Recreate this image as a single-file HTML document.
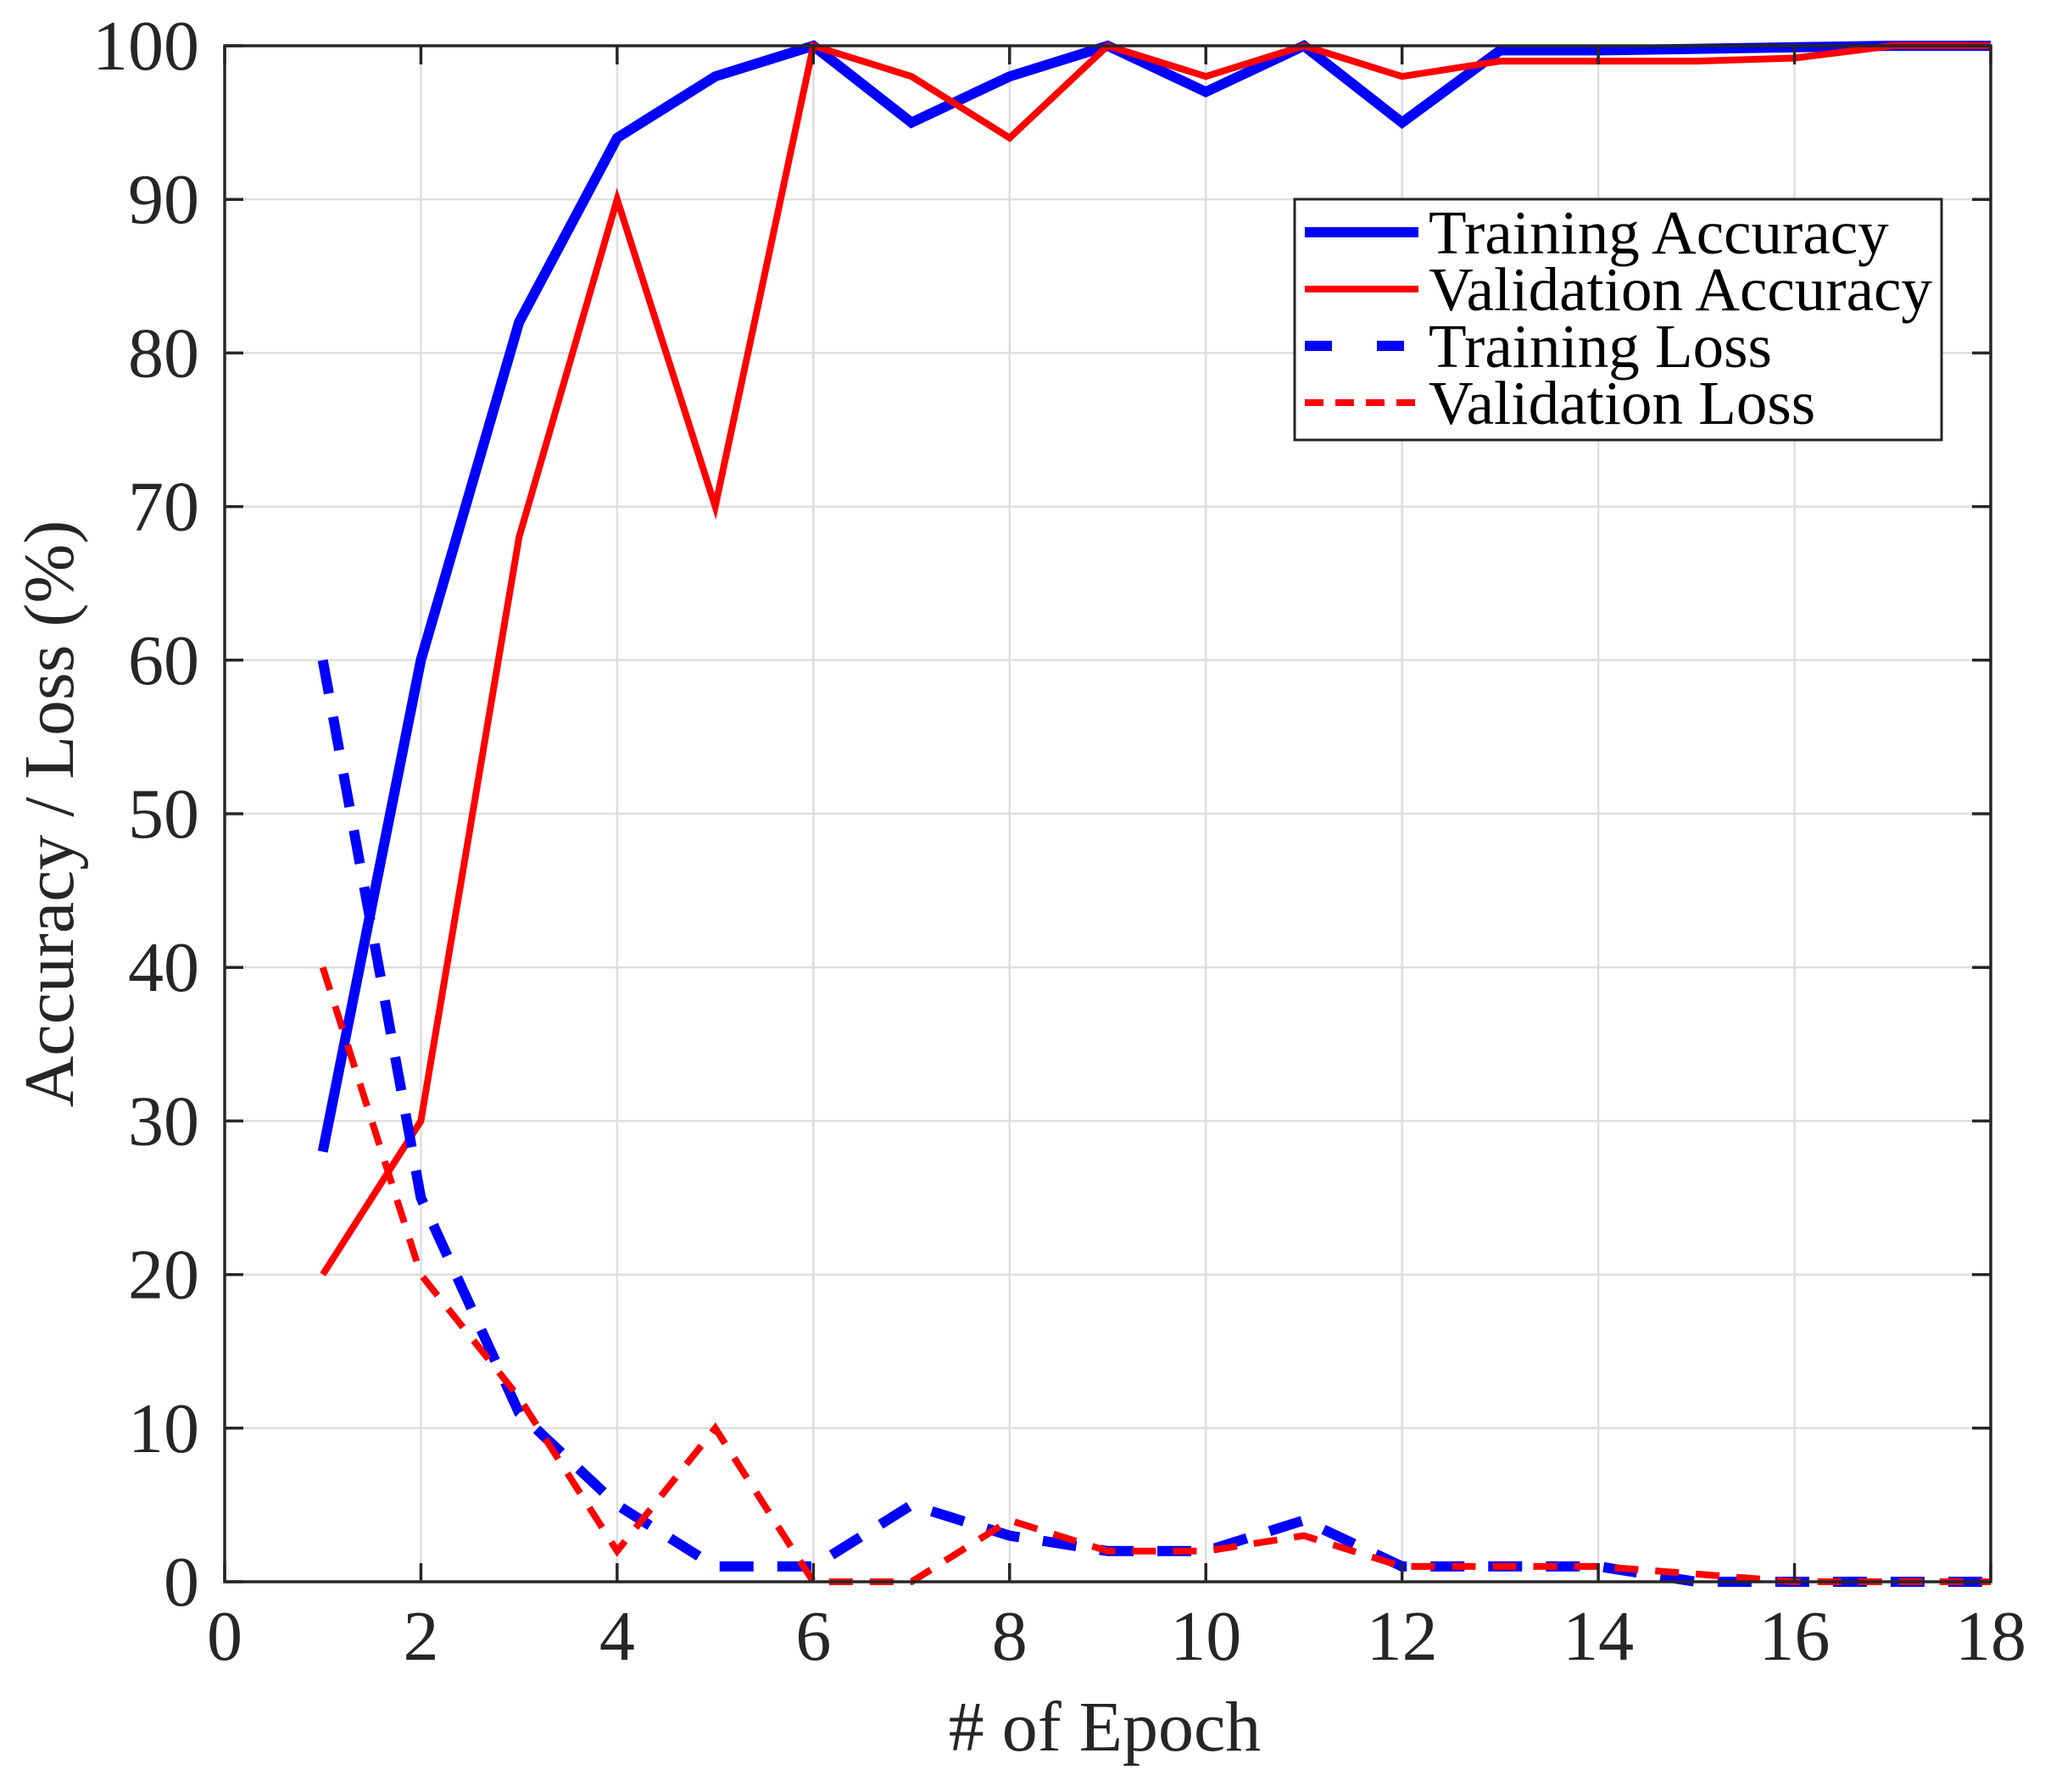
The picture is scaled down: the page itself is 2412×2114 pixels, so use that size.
<!DOCTYPE html>
<html><head><style>
html,body{margin:0;padding:0;background:#fff;}
svg{display:block;font-family:"Liberation Serif",serif;}
</style></head><body>
<svg id="s" width="2412" height="2114" xmlns="http://www.w3.org/2000/svg"></svg>
<script>
const L=265,R=2348,T=54,B=1866;
const X=x=>L+x*(R-L)/18, Y=y=>B-y*(B-T)/100;
let h='';
for(let i=0;i<=18;i+=2){const x=X(i);
 if(i>0&&i<18) h+=`<line x1="${x}" y1="${T}" x2="${x}" y2="${B}" stroke="#dedede" stroke-width="2.5"/>`;}
for(let j=0;j<=100;j+=10){const y=Y(j);
 if(j>0&&j<100) h+=`<line x1="${L}" y1="${y}" x2="${R}" y2="${y}" stroke="#dedede" stroke-width="2.5"/>`;}
const ta=[28,60,82,94,98,100,95,98,100,97,100,95,99.7,99.7,99.8,99.9,100,100];
const va=[20,30,68,90,70,100,98,94,100,98,100,98,99,99,99,99.2,100,100];
const tl=[60,25,11,5,1,1,5,3,2,2,4,1,1,1,0,0,0,0];
const vl=[40,20,12,2,10,0,0,4,2,2,3,1,1,1,0.5,0,0,0];
const pts=a=>a.map((v,i)=>X(i+1).toFixed(1)+','+Y(v).toFixed(1)).join(' ');
h+=`<polyline points="${pts(ta)}" fill="none" stroke="#0000ff" stroke-width="12" stroke-linejoin="miter"/>`;
h+=`<polyline points="${pts(va)}" fill="none" stroke="#ff0000" stroke-width="8"/>`;
h+=`<polyline points="${pts(tl)}" fill="none" stroke="#0000ff" stroke-width="12" stroke-dasharray="40 28"/>`;
h+=`<polyline points="${pts(vl)}" fill="none" stroke="#ff0000" stroke-width="8" stroke-dasharray="28 20"/>`;
h+=`<rect x="${L}" y="${T}" width="${R-L}" height="${B-T}" fill="none" stroke="#262626" stroke-width="3.5"/>`;
for(let i=0;i<=18;i+=2){const x=X(i);
 h+=`<line x1="${x}" y1="${B}" x2="${x}" y2="${B-22}" stroke="#262626" stroke-width="3.5"/><line x1="${x}" y1="${T}" x2="${x}" y2="${T+22}" stroke="#262626" stroke-width="3.5"/>`;
 h+=`<text x="${x}" y="${B+92}" font-size="84" text-anchor="middle" fill="#262626">${i}</text>`;}
for(let j=0;j<=100;j+=10){const y=Y(j);
 h+=`<line x1="${L}" y1="${y}" x2="${L+22}" y2="${y}" stroke="#262626" stroke-width="3.5"/><line x1="${R}" y1="${y}" x2="${R-22}" y2="${y}" stroke="#262626" stroke-width="3.5"/>`;
 h+=`<text x="${L-30}" y="${y+28}" font-size="84" text-anchor="end" fill="#262626">${j}</text>`;}
h+=`<text x="1303" y="2065" font-size="84" text-anchor="middle" fill="#262626"># of Epoch</text>`;
h+=`<text transform="translate(86,960) rotate(-90)" font-size="84" text-anchor="middle" fill="#262626">Accuracy / Loss (%)</text>`;
h+=`<rect x="1527" y="235" width="763" height="284" fill="#fff" stroke="#262626" stroke-width="3"/>`;
const lg=[["Training Accuracy","#0000ff",12,""],["Validation Accuracy","#ff0000",8,""],["Training Loss","#0000ff",12,"32 53"],["Validation Loss","#ff0000",8,"22 14"]];
lg.forEach((e,k)=>{const y=274+k*67;
 h+=`<line x1="1539" y1="${y}" x2="1673" y2="${y}" stroke="${e[1]}" stroke-width="${e[2]}" ${e[3]?`stroke-dasharray="${e[3]}"`:''}/>`;
 h+=`<text x="1685" y="${y+25}" font-size="73" fill="#000">${e[0]}</text>`;});
document.getElementById('s').innerHTML=h;
</script>
</body></html>
